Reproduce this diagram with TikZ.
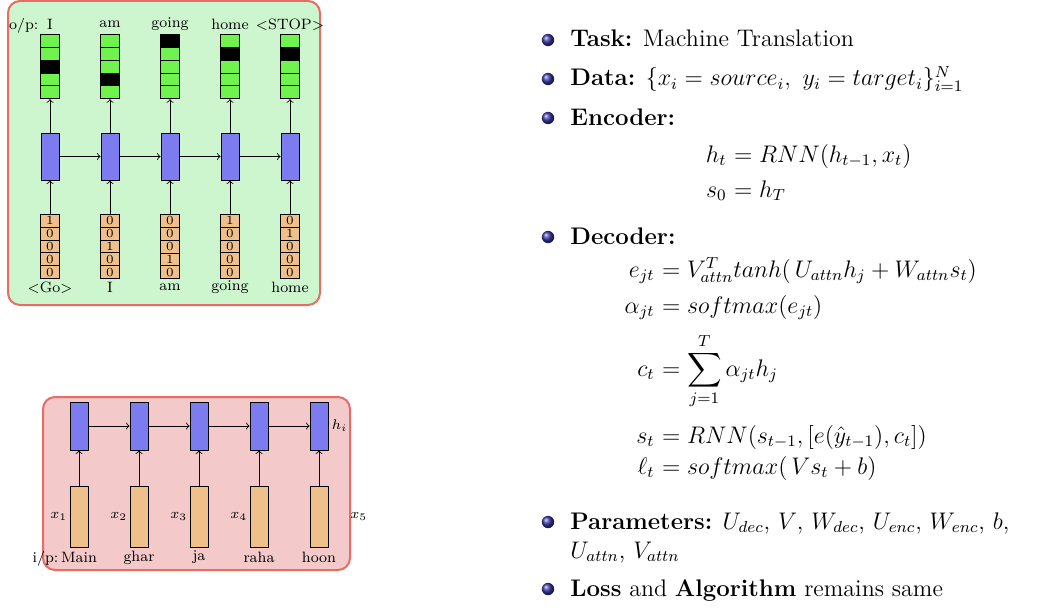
\documentclass[tikz,border=0pt]{standalone}
\usepackage{amsmath}
\usepackage{tikz}
\usetikzlibrary{positioning,shapes.multipart}

\definecolor{panelgreen}{RGB}{206,246,206}
\definecolor{panelpink}{RGB}{243,201,201}
\definecolor{panelline}{RGB}{230,108,100}
\definecolor{outgreen}{RGB}{112,243,78}
\definecolor{rnnblue}{RGB}{124,124,240}
\definecolor{inorange}{RGB}{240,192,138}
\definecolor{bulletblue}{RGB}{56,56,165}

\begin{document}
\begin{tikzpicture}[
			x=0.5pt, y=-0.5pt,
			node distance={30pt},
			panel/.style = {draw=panelline, line width=1pt, rounded corners=6pt},
			rnn/.style = {draw, fill=rnnblue, minimum width=9pt, minimum height=23.5pt, inner sep=0pt},
			tallin/.style = {draw, fill=inorange, minimum width=9pt, minimum height=30.5pt, inner sep=0pt},
			onehot/.style = {draw, rectangle split, rectangle split parts=5, fill=inorange, font=\fontsize{6.2}{7}\selectfont, inner xsep=2.9pt, inner ysep=0.9pt},
			outvec/.style = {draw, rectangle split, rectangle split parts=5, font=\fontsize{6.2}{7}\selectfont, inner xsep=2.9pt, inner ysep=0.9pt, rectangle split part fill={#1}},
			word/.style = {font=\fontsize{7.5}{9}\selectfont, inner sep=1pt},
			bullet/.style = {circle, ball color=bulletblue, minimum size=6.2pt, inner sep=0pt},
			line/.style = {font=\fontsize{12}{14.4}\selectfont, inner sep=0pt}
		]
		\useasboundingbox (0,0) rectangle (1047,610);
		% panels
		\draw[panel, fill=panelgreen] (8,1) rectangle (320,305);
		\draw[panel, fill=panelpink] (43,397) rectangle (350,570);

		% decoder (top)
		\node[rnn] (b1) at (50,156.5) {};
		\node[rnn] (b2) [right of=b1] {};
		\node[rnn] (b3) [right of=b2] {};
		\node[rnn] (b4) [right of=b3] {};
		\node[rnn] (b5) [right of=b4] {};
		\node[outvec={outgreen,outgreen,black,outgreen,outgreen}] (o1) [above of=b1, node distance=45pt] {\phantom{0}\nodepart{two}\phantom{0}\nodepart{three}\phantom{0}\nodepart{four}\phantom{0}\nodepart{five}\phantom{0}};
		\node[outvec={outgreen,outgreen,outgreen,black,outgreen}] (o2) [above of=b2, node distance=45pt] {\phantom{0}\nodepart{two}\phantom{0}\nodepart{three}\phantom{0}\nodepart{four}\phantom{0}\nodepart{five}\phantom{0}};
		\node[outvec={black,outgreen,outgreen,outgreen,outgreen}] (o3) [above of=b3, node distance=45pt] {\phantom{0}\nodepart{two}\phantom{0}\nodepart{three}\phantom{0}\nodepart{four}\phantom{0}\nodepart{five}\phantom{0}};
		\node[outvec={outgreen,black,outgreen,outgreen,outgreen}] (o4) [above of=b4, node distance=45pt] {\phantom{0}\nodepart{two}\phantom{0}\nodepart{three}\phantom{0}\nodepart{four}\phantom{0}\nodepart{five}\phantom{0}};
		\node[outvec={outgreen,black,outgreen,outgreen,outgreen}] (o5) [above of=b5, node distance=45pt] {\phantom{0}\nodepart{two}\phantom{0}\nodepart{three}\phantom{0}\nodepart{four}\phantom{0}\nodepart{five}\phantom{0}};
		\node[onehot] (i1) [below of=b1, node distance=45pt] {1\nodepart{two}0\nodepart{three}0\nodepart{four}0\nodepart{five}0};
		\node[onehot] (i2) [below of=b2, node distance=45pt] {0\nodepart{two}0\nodepart{three}1\nodepart{four}0\nodepart{five}0};
		\node[onehot] (i3) [below of=b3, node distance=45pt] {0\nodepart{two}0\nodepart{three}0\nodepart{four}1\nodepart{five}0};
		\node[onehot] (i4) [below of=b4, node distance=45pt] {1\nodepart{two}0\nodepart{three}0\nodepart{four}0\nodepart{five}0};
		\node[onehot] (i5) [below of=b5, node distance=45pt] {0\nodepart{two}1\nodepart{three}0\nodepart{four}0\nodepart{five}0};
		\node[word] (t1) [above of=o1, node distance=21pt] {I};
		\node[word, anchor=base east] (op) at ([xshift=-2pt]t1.base west) {o/p:};
		\node[word] (t2) [above of=o2, node distance=21pt] {am};
		\node[word] (t3) [above of=o3, node distance=21pt] {going};
		\node[word] (t4) [above of=o4, node distance=21pt] {home};
		\node[word] (t5) [above of=o5, node distance=21pt] {$<$STOP$>$};
		\node[word] (s1) [below of=i1, node distance=20.5pt] {$<$Go$>$};
		\node[word] (s2) [below of=i2, node distance=20.5pt] {I};
		\node[word] (s3) [below of=i3, node distance=20.5pt] {am};
		\node[word] (s4) [below of=i4, node distance=20.5pt] {going};
		\node[word] (s5) [below of=i5, node distance=20.5pt] {home};
		\draw[->] (b1) -- (b2);
		\draw[->] (b2) -- (b3);
		\draw[->] (b3) -- (b4);
		\draw[->] (b4) -- (b5);
		\draw[->] (b1) -- (o1);
		\draw[->] (b2) -- (o2);
		\draw[->] (b3) -- (o3);
		\draw[->] (b4) -- (o4);
		\draw[->] (b5) -- (o5);
		\draw[->] (i1) -- (b1);
		\draw[->] (i2) -- (b2);
		\draw[->] (i3) -- (b3);
		\draw[->] (i4) -- (b4);
		\draw[->] (i5) -- (b5);

		% encoder (bottom)
		\node[rnn, minimum height=24pt] (c1) at (79,426) {};
		\node[rnn, minimum height=24pt] (c2) [right of=c1] {};
		\node[rnn, minimum height=24pt] (c3) [right of=c2] {};
		\node[rnn, minimum height=24pt] (c4) [right of=c3] {};
		\node[rnn, minimum height=24pt] (c5) [right of=c4] {};
		\node[tallin] (x1) [below of=c1, node distance=45.25pt] {};
		\node[tallin] (x2) [below of=c2, node distance=45.25pt] {};
		\node[tallin] (x3) [below of=c3, node distance=45.25pt] {};
		\node[tallin] (x4) [below of=c4, node distance=45.25pt] {};
		\node[tallin] (x5) [below of=c5, node distance=45.25pt] {};
		\node[word] (w1) [below of=x1, node distance=20.5pt] {Main};
		\node[word, anchor=base east, inner sep=0pt] (ip) at (w1.base west) {i/p:};
		\node[word] (w2) [below of=x2, node distance=20.5pt] {ghar};
		\node[word] (w3) [below of=x3, node distance=20.5pt] {ja};
		\node[word] (w4) [below of=x4, node distance=20.5pt] {raha};
		\node[word] (w5) [below of=x5, node distance=20.5pt] {hoon};
		\node[word, anchor=east] (lx1) at (x1.west) {$x_1$};
		\node[word, anchor=east] (lx2) at (x2.west) {$x_2$};
		\node[word, anchor=east] (lx3) at (x3.west) {$x_3$};
		\node[word, anchor=east] (lx4) at (x4.west) {$x_4$};
		\node[word, anchor=east] (lx5) at ([xshift=30pt]x5.west) {$x_5$};
		\node[word, anchor=west, inner sep=1.5pt] (hi) at (c5.east) {$h_i$};
		\draw[->] (c1) -- (c2);
		\draw[->] (c2) -- (c3);
		\draw[->] (c3) -- (c4);
		\draw[->] (c4) -- (c5);
		\draw[->] (x1) -- (c1);
		\draw[->] (x2) -- (c2);
		\draw[->] (x3) -- (c3);
		\draw[->] (x4) -- (c4);
		\draw[->] (x5) -- (c5);

		% text
		\node[bullet] (d1) at (548,40) {};
		\node[line, anchor=base west] (task) at (570,47) {\textbf{Task:} Machine Translation};
		\node[bullet] (d2) at (548,79) {};
		\node[line, anchor=base west] (data) at (570,86) {\textbf{Data:} $\{x_i = source_i,\ y_i = target_i\}_{i=1}^N$};
		\node[bullet] (d3) at (548,118) {};
		\node[line, anchor=base west] (enc) at (570,125) {\textbf{Encoder:}};
		\node[line, anchor=base east] (e1l) at (727,162) {$h_t$};
		\node[line, anchor=base west] (e1r) at (727,162) {${}= RNN(h_{t-1}, x_t)$};
		\node[line, anchor=base east] (e2l) at (727,197) {$s_0$};
		\node[line, anchor=base west] (e2r) at (727,197) {${}= h_T$};
		\node[bullet] (d4) at (548,237) {};
		\node[line, anchor=base west] (dec) at (570,244) {\textbf{Decoder:}};
		\node[line, anchor=base east] (q1l) at (655,277) {$e_{jt}$};
		\node[line, anchor=base west] (q1r) at (655,277) {${}= V_{attn}^T tanh(\,U_{attn}h_j + W_{attn}s_t)$};
		\node[line, anchor=base east] (q2l) at (655,313) {$\alpha_{jt}$};
		\node[line, anchor=base west] (q2r) at (655,313) {${}= softmax(e_{jt})$};
		\node[line, anchor=base east] (q3l) at (655,376) {$c_t$};
		\node[line, anchor=base west] (q3r) at (655,376) {${}= \displaystyle\sum_{j=1}^{T} \alpha_{jt}h_j$};
		\node[line, anchor=base east] (q4l) at (655,443) {$s_t$};
		\node[line, anchor=base west] (q4r) at (655,443) {${}= RNN(s_{t-1}, [e(\hat{y}_{t-1}), c_t])$};
		\node[line, anchor=base east] (q5l) at (655,474) {$\ell_t$};
		\node[line, anchor=base west] (q5r) at (655,474) {${}= softmax(\,Vs_t + b)$};
		\node[bullet] (d5) at (548,522) {};
		\node[line, anchor=base west] (par) at (570,529) {\textbf{Parameters:} $U_{dec}$, $V$, $W_{dec}$, $U_{enc}$, $W_{enc}$, $b$,};
		\node[line, anchor=base west] (par2) at (570,558) {$U_{attn}$, $V_{attn}$};
		\node[bullet] (d6) at (548,589) {};
		\node[line, anchor=base west] (loss) at (570,596) {\textbf{Loss} and \textbf{Algorithm} remains same};
	\end{tikzpicture}
\end{document}
